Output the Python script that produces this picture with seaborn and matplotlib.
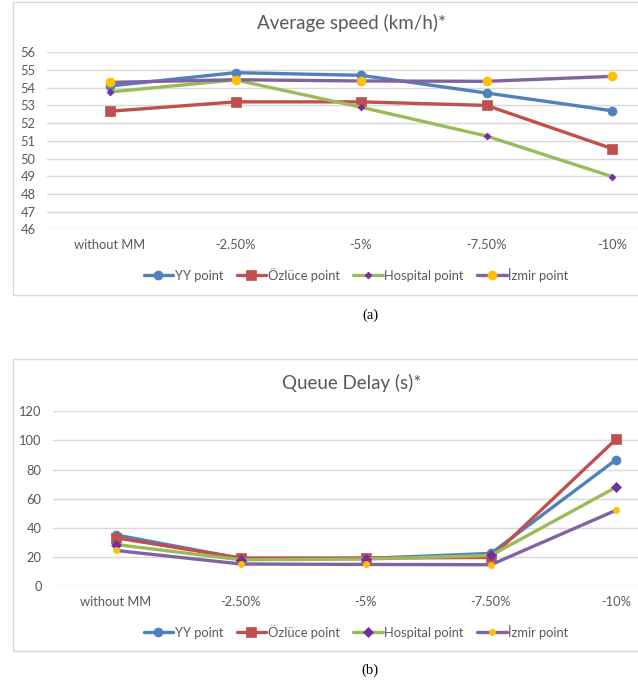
import numpy as np
import pandas as pd
import seaborn as sns
import matplotlib.pyplot as plt
from matplotlib.patches import Rectangle

# categories and series
categories = ["without MM", "-2.50%", "-5%", "-7.50%", "-10%"]
series = ["YY point", "Özlüce point", "Hospital point", "İzmir point"]

# (a) average speed, km/h
speed_yy = [54.1, 54.85, 54.7, 53.7, 52.7]
speed_ozluce = [52.67, 53.2, 53.2, 53.0, 50.56]
speed_hospital = [53.76, 54.44, 52.9, 51.27, 48.98]
speed_izmir = [54.3, 54.45, 54.38, 54.36, 54.64]

# (b) queue delay, s
delay_yy = [35.1, 18.9, 18.9, 22.4, 86.7]
delay_ozluce = [33.1, 19.2, 19.2, 19.6, 100.8]
delay_hospital = [28.5, 18.0, 18.5, 21.0, 67.8]
delay_izmir = [24.4, 15.1, 14.8, 14.6, 52.0]

speed_ticks = list(range(46, 57))
delay_ticks = list(range(0, 121, 20))

sns.set_theme(style="white")
plt.rcParams["font.family"] = ["Lato", "DejaVu Sans"]

TXT = "#595959"
GRID = "#D9D9D9"
W, H = 638, 687

# line colour, marker, marker colour, marker size (a), marker size (b)
styles = {
    "YY point": ("#4F81BD", "o", "#4F81BD", 6.5, 6.5),
    "Özlüce point": ("#C0504D", "s", "#C0504D", 6.5, 6.5),
    "Hospital point": ("#9BBB59", "D", "#7030A0", 3.5, 5.0),
    "İzmir point": ("#8064A2", "o", "#FFC000", 6.5, 4.5),
}


def long_df(vals):
    rows = []
    for name, v in zip(series, vals):
        for c, y in zip(categories, v):
            rows.append({"cat": c, "series": name, "value": y})
    return pd.DataFrame(rows)


def draw_panel(ax, df, ticks, title, title_y, legend_y, size_idx):
    for name in series:
        col, mk, mcol, *ms = styles[name]
        sub = df[df["series"] == name]
        sns.lineplot(data=sub, x="cat", y="value", ax=ax, color=col, lw=2.4,
                     marker=mk, markersize=ms[size_idx], markerfacecolor=mcol,
                     markeredgecolor=mcol, markeredgewidth=0.5,
                     sort=False, errorbar=None, label=name)
    ax.set_xlim(-0.5, 4.5)
    ax.set_ylim(ticks[0], ticks[-1])
    ax.set_yticks(ticks)
    ax.set_xlabel("")
    ax.set_ylabel("")
    ax.yaxis.grid(True, color=GRID, lw=1.0)
    ax.set_axisbelow(True)
    sns.despine(ax=ax, left=True, bottom=True)
    ax.tick_params(axis="both", length=0, labelsize=9.3, labelcolor=TXT)
    ax.tick_params(axis="y", pad=8.5)
    ax.tick_params(axis="x", pad=7)
    fig.text(352 / W, 1 - title_y / H, title, ha="center", va="center",
             fontsize=13.5, color=TXT)
    ax.legend(loc="center", bbox_to_anchor=(356 / W, 1 - legend_y / H),
              bbox_transform=fig.transFigure, ncol=4, frameon=False,
              fontsize=9.3, labelcolor=TXT, handlelength=2.3,
              handletextpad=0.1, columnspacing=1.05)


fig = plt.figure(figsize=(W / 100, H / 100), dpi=100)

# chart frames
for top, bottom in [(2, 295), (359, 651)]:
    fig.patches.append(Rectangle((12.7 / W, 1 - bottom / H), 1.0, (bottom - top) / H,
                                 transform=fig.transFigure, fill=False,
                                 edgecolor=GRID, lw=1.0))

ax1 = fig.add_axes([47.25 / W, 1 - 229.3 / H, 627.5 / W, (229.3 - 52.3) / H])
draw_panel(ax1, long_df([speed_yy, speed_ozluce, speed_hospital, speed_izmir]),
           speed_ticks, "Average speed (km/h)*", 23, 275, 0)

ax2 = fig.add_axes([53.5 / W, 1 - 586 / H, 625 / W, (586 - 411.3) / H])
draw_panel(ax2, long_df([delay_yy, delay_ozluce, delay_hospital, delay_izmir]),
           delay_ticks, "Queue Delay (s)*", 383, 632, 1)

fig.text(370 / W, 1 - 315 / H, "(a)", ha="center", va="center",
         fontsize=10.5, family="Liberation Serif", color="black")
fig.text(370 / W, 1 - 670 / H, "(b)", ha="center", va="center",
         fontsize=10.5, family="Liberation Serif", color="black")

fig.savefig("out.png", dpi=100)
